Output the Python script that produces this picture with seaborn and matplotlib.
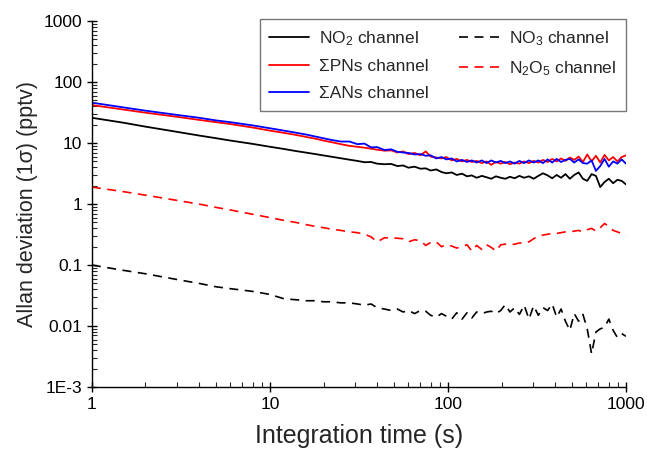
import numpy as np
import pandas as pd
import matplotlib
matplotlib.use("Agg")
import matplotlib.pyplot as plt
from matplotlib.ticker import FixedLocator, FixedFormatter, LogLocator, NullFormatter
import seaborn as sns

# ---- data ----
t = [1, 1.5, 2, 3, 4, 5, 6, 8, 10, 12, 14, 16, 18, 20, 22, 25, 28, 31, 34, 37,
     40, 44, 48, 52, 56, 60, 65, 70, 75, 80, 86, 92, 98, 105, 112, 120, 128, 136,
     145, 155, 165, 175, 186, 198, 210, 223, 237, 252, 268, 285, 303, 322, 342,
     363, 385, 408, 432, 457, 484, 512, 542, 573, 606, 641, 678, 717, 758, 801,
     847, 895, 946, 1000]

no2 = [26, 21.6, 18.6, 15.3, 13.3, 12.0, 11.0, 9.7, 8.7, 8.0, 7.4, 6.97, 6.6, 6.27,
       6.0, 5.64, 5.34, 5.1, 4.85, 4.9, 4.6, 4.5, 4.55, 4.2, 4.3, 3.95, 4.1, 3.8,
       3.85, 3.55, 3.7, 3.35, 3.2, 3.3, 3.0, 3.15, 2.85, 2.95, 2.7, 2.9, 2.75, 2.6,
       2.85, 2.7, 2.6, 2.8, 2.65, 2.9, 2.7, 2.85, 2.6, 2.9, 3.2, 2.95, 2.65, 3.0,
       2.7, 3.1, 2.6, 3.0, 3.3, 2.6, 2.4, 3.1, 2.9, 1.9, 2.3, 2.6, 2.2, 2.5, 2.4, 2.1]

pns = [42, 35.5, 31.5, 27, 24, 22, 20.5, 18, 16, 14.7, 13.6, 12.6, 11.8, 11.0,
       10.4, 9.6, 9.0, 8.7, 8.4, 8.1, 7.8, 7.5, 7.6, 7.0, 7.3, 6.6, 6.9, 6.3, 7.3,
       6.0, 5.8, 5.6, 5.9, 5.2, 5.5, 5.0, 5.3, 4.9, 5.1, 4.7, 5.0, 4.4, 4.9, 4.6,
       4.9, 4.5, 4.8, 4.6, 5.0, 4.7, 5.1, 4.8, 5.3, 4.9, 5.5, 5.0, 5.6, 5.1, 5.8,
       5.3, 6.0, 4.9, 6.5, 5.0, 6.2, 4.8, 6.4, 5.2, 5.9, 5.0, 5.9, 6.3]

ans = [46, 38.5, 34, 29, 26, 23.5, 22, 19.5, 17.5, 16, 14.8, 13.8, 12.8, 12.0,
       11.3, 10.6, 10.6, 9.6, 9.8, 8.5, 8.6, 7.7, 7.9, 7.2, 7.0, 6.9, 6.5, 6.6, 6.2,
       6.3, 5.6, 5.9, 5.4, 5.6, 5.0, 5.3, 4.9, 5.2, 4.8, 5.2, 4.7, 5.2, 4.8, 5.1,
       4.7, 5.0, 4.6, 5.1, 4.7, 5.2, 4.8, 5.2, 4.7, 5.4, 4.8, 5.5, 4.9, 5.3, 5.5,
       4.8, 5.4, 4.7, 4.6, 5.2, 3.5, 4.2, 5.5, 4.1, 5.0, 4.6, 5.4, 4.6]

no3 = [0.1, 0.082, 0.072, 0.058, 0.05, 0.044, 0.041, 0.037, 0.033, 0.028, 0.027,
       0.026, 0.026, 0.025, 0.025, 0.024, 0.024, 0.023, 0.022, 0.023, 0.02, 0.019,
       0.018, 0.019, 0.017, 0.018, 0.016, 0.018, 0.0175, 0.015, 0.014, 0.016,
       0.0145, 0.013, 0.0165, 0.013, 0.0165, 0.0135, 0.017, 0.016, 0.017, 0.0175,
       0.016, 0.018, 0.0225, 0.017, 0.02, 0.0155, 0.022, 0.013, 0.0215, 0.015,
       0.02, 0.018, 0.023, 0.014, 0.019, 0.012, 0.0085, 0.016, 0.012, 0.0155,
       0.009, 0.0035, 0.008, 0.009, 0.0095, 0.013, 0.0085, 0.0065, 0.0075, 0.0068]

n2o5 = [1.9, 1.6, 1.4, 1.15, 1.0, 0.88, 0.8, 0.68, 0.6, 0.54, 0.5, 0.46, 0.43,
        0.41, 0.39, 0.37, 0.35, 0.34, 0.32, 0.29, 0.24, 0.28, 0.28, 0.275, 0.27,
        0.24, 0.26, 0.25, 0.21, 0.235, 0.24, 0.2, 0.215, 0.205, 0.19, 0.2, 0.215,
        0.17, 0.21, 0.18, 0.215, 0.195, 0.17, 0.215, 0.22, 0.215, 0.22, 0.23, 0.23,
        0.24, 0.27, 0.3, 0.31, 0.32, 0.33, 0.33, 0.34, 0.35, 0.35, 0.36, 0.37,
        0.35, 0.38, 0.40, 0.36, 0.41, 0.48, 0.43, 0.37, 0.35, 0.33, 0.30]

labels = ["NO$_2$ channel", "\u03a3PNs channel", "\u03a3ANs channel",
          "NO$_3$ channel", "N$_2$O$_5$ channel"]
y_ticks = [1e-3, 1e-2, 1e-1, 1, 10, 100, 1000]
y_ticklabels = ["1E-3", "0.01", "0.1", "1", "10", "100", "1000"]
x_ticks = [1, 10, 100, 1000]
x_ticklabels = ["1", "10", "100", "1000"]

sns.set_style("ticks")
plt.rcParams["font.family"] = ["Liberation Sans", "DejaVu Sans"]
plt.rcParams["mathtext.default"] = "regular"
plt.rcParams["mathtext.fontset"] = "custom"
plt.rcParams["mathtext.rm"] = "Liberation Sans"

fig = plt.figure(figsize=(6.47, 4.49), dpi=100)
ax = fig.add_axes([0.142, 0.138, 0.8255, 0.815])

series = [no2, pns, ans, no3, n2o5]
colors = ["black", "#ff0000", "#0000ff", "black", "#ff0000"]
styles = ["-", "-", "-", "--", "--"]
for vals, lab, c, ls in zip(series, labels, colors, styles):
    assert len(vals) == len(t)
    kw = dict(linewidth=1.3) if ls == "-" else dict(linewidth=1.2, dashes=(5.4, 3.9))
    sns.lineplot(x=t, y=vals, ax=ax, color=c, label=lab, **kw)

ax.set_xscale("log")
ax.set_yscale("log")
ax.set_xlim(1, 1000)
ax.set_ylim(1e-3, 1000)
ax.xaxis.set_major_locator(FixedLocator(x_ticks))
ax.xaxis.set_major_formatter(FixedFormatter(x_ticklabels))
ax.yaxis.set_major_locator(FixedLocator(y_ticks))
ax.yaxis.set_major_formatter(FixedFormatter(y_ticklabels))
ax.xaxis.set_minor_locator(LogLocator(base=10, subs=np.arange(2, 10)))
ax.yaxis.set_minor_locator(LogLocator(base=10, subs=np.arange(2, 10)))
ax.xaxis.set_minor_formatter(NullFormatter())
ax.yaxis.set_minor_formatter(NullFormatter())
ax.tick_params(which="major", direction="inout", length=7, width=1, labelsize=12.5, colors="black")
ax.tick_params(which="minor", direction="in", length=3.5, width=0.8)
for s in ["left", "bottom"]:
    ax.spines[s].set_linewidth(1.0)
    ax.spines[s].set_color("black")
sns.despine(ax=ax)

ax.set_xlabel("Integration time (s)", fontsize=18, labelpad=9)
ax.set_ylabel("Allan deviation (1\u03c3) (pptv)", fontsize=15.5, labelpad=4)

leg = ax.legend(loc="upper right", ncol=2, fontsize=12.5, frameon=True, fancybox=False,
                edgecolor="#555555", handlelength=2.3, handletextpad=0.6,
                columnspacing=1.7, borderpad=0.55, labelspacing=0.68,
                borderaxespad=0, bbox_to_anchor=(1.0, 1.005))
leg.get_frame().set_linewidth(1.0)

fig.savefig("out.png", dpi=100)
